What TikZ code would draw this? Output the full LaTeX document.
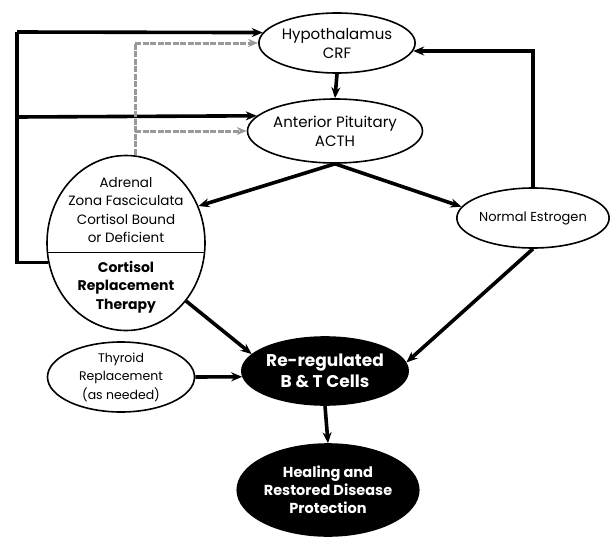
\documentclass[tikz,border=0pt]{standalone}
\usepackage{fontspec}
\setmainfont{Poppins}
\usetikzlibrary{
    arrows.meta,
    calc,
    shapes.geometric
}
\tikzset{
  organ/.style={
    draw,
    ellipse,
    line width=1.6pt,
    align=center,
    inner sep=0pt
  },
  darkorgan/.style={
    organ,
    fill=black,
    text=white
  },
  feed/.style={
    line width=3.6pt,
    -{Stealth[length=11pt,width=9pt]}
  },
  faint/.style={
    line width=3pt,
    black!40,
    dash pattern=on 6pt off 1.5pt,
    -{Stealth[length=10pt,width=8pt]}
  }
}

\begin{document}
\begin{tikzpicture}[x=1pt,y=-1pt]
    \useasboundingbox (0,0) rectangle (611,541);

    % ellipses
    \node[organ,minimum width=143pt,minimum height=60pt,
          font=\fontsize{15}{19}\selectfont] (hyp) at (337,43) {Hypothalamus\\CRF};
    \node[organ,minimum width=146pt,minimum height=64pt,
          font=\fontsize{15}{19}\selectfont] (pit) at (335,131) {Anterior Pituitary\\ACTH};
    \node[organ,minimum width=158pt,minimum height=175pt] (adr) at (126,243) {};
    \node[organ,minimum width=150pt,minimum height=60pt,
          font=\fontsize{13}{16}\selectfont] (est) at (533,218) {Normal Estrogen};
    \node[organ,minimum width=147pt,minimum height=70pt,
          font=\fontsize{12.5}{18.5}\selectfont] (thy) at (121,377) {Thyroid\\Replacement\\(as needed)};
    \node[darkorgan,minimum width=164pt,minimum height=68pt,
          font=\bfseries\fontsize{17}{21}\selectfont] (bt) at (325,371) {Re-regulated\\B \& T Cells};
    \node[darkorgan,minimum width=173pt,minimum height=92pt,
          font=\bfseries\fontsize{14.5}{18}\selectfont] (heal) at (328,490) {Healing and\\Restored Disease\\Protection};

    % Adrenal circle, two halves
    \node[align=center,font=\fontsize{13.5}{18.5}\selectfont] (adrtop) at (126,210)
        {Adrenal\\Zona Fasciculata\\Cortisol Bound\\or Deficient};
    \node[align=center,font=\bfseries\fontsize{14}{18.5}\selectfont] (adrbot) at (126,287)
        {Cortisol\\Replacement\\Therapy};
    \draw[line width=1pt] (adr.center) ++(-78.6,9) -- ++(157.2,0);

    % feedback loops
    \coordinate (ltop) at (17,32);
    \coordinate (lmid) at (17,117);
    \coordinate (gx) at (135,43);
    \draw[feed,-] (adr.194) -| (ltop);
    \draw[feed] (ltop) -- (hyp.172);
    \draw[feed] (lmid) -- (pit.169);
    \draw[faint,-] (gx |- adr.north) -- (gx);
    \draw[faint] (gx) -- (hyp.west);
    \draw[faint] (gx |- pit.west) -- (pit.west);
    \draw[feed] (est.north) |- (hyp.354);

    % main flow
    \draw[feed] (hyp.south) -- (pit.north);
    \draw[feed] (pit.south) -- (adr.27);
    \draw[feed] (pit.south) -- (est.171);
    \draw[feed] (adr.316) -- (bt.167);
    \draw[feed] (thy.east) -- (bt.184);
    \draw[feed] (est.south) -- (bt.6);
    \draw[feed] (bt.south) -- (heal.north);
\end{tikzpicture}
\end{document}
